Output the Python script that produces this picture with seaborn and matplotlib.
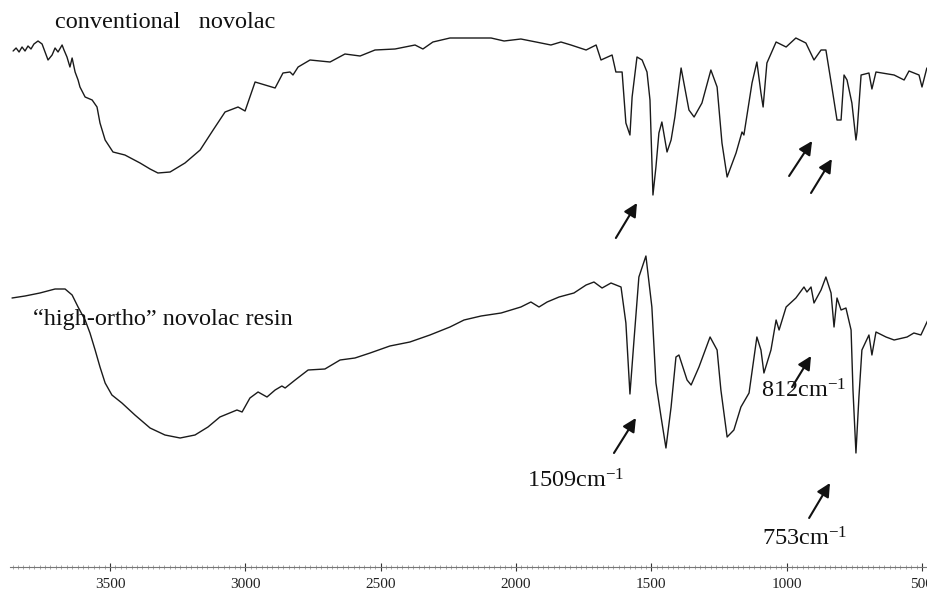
import matplotlib
matplotlib.use("Agg")
import matplotlib.pyplot as plt
import seaborn as sns
import numpy as np
import pandas as pd
from matplotlib.ticker import MultipleLocator, FixedLocator

# ---------------- data (wavenumber in cm-1, transmittance in arbitrary offset units) -------------
conv_wn = [3858, 3847, 3836, 3825, 3814, 3803, 3792, 3781, 3766, 3751,
           3740, 3729, 3714, 3703, 3692, 3677, 3670, 3659, 3648, 3640,
           3629, 3618, 3611, 3592, 3566, 3548, 3537, 3518, 3489, 3445,
           3389, 3352, 3323, 3278, 3223, 3167, 3119, 3075, 3027, 3001,
           2964, 2927, 2890, 2861, 2835, 2824, 2805, 2761, 2724, 2687,
           2632, 2576, 2521, 2447, 2373, 2344, 2307, 2244,
           2192, 2092, 2044, 1982, 1926, 1871, 1834, 1797, 1741, 1704,
           1686, 1645, 1631, 1608, 1594, 1579, 1571, 1553, 1534, 1516,
           1505, 1494, 1483, 1472, 1461, 1442, 1427, 1413, 1390, 1361,
           1342, 1313, 1280, 1257, 1239, 1220, 1187, 1165, 1158, 1128,
           1110, 1095, 1087, 1073, 1039, 1002, 966, 929, 899, 873,
           855, 833, 814, 799, 788, 777, 759, 744, 740, 725,
           696, 685, 670, 603, 566, 548, 511, 500, 482]
conv_t = [516, 519, 515, 520, 516, 521, 518, 523, 526, 523,
          515, 507, 512, 519, 515, 522, 517, 510, 500, 509,
          495, 487, 480, 470, 467, 460, 444, 427, 415, 412,
          404, 398, 394, 395, 404, 417, 437, 455, 460, 456,
          485, 482, 479, 494, 495, 492, 500, 507, 506, 505,
          513, 511, 517, 518, 522, 518, 525, 529,
          529, 529, 526, 528, 525, 522, 525, 522, 517, 522,
          507, 512, 495, 495, 444, 432, 470, 510, 507, 495,
          467, 372, 400, 434, 445, 415, 427, 450, 499, 457,
          450, 464, 497, 480, 424, 390, 414, 435, 432, 484,
          505, 474, 460, 504, 525, 520, 529, 524, 507, 517,
          517, 480, 447, 447, 492, 487, 464, 427, 435, 492,
          494, 478, 495, 492, 487, 496, 492, 480, 499]

ortho_wn = [3862, 3814, 3759, 3703, 3666, 3640, 3618, 3592, 3574, 3555,
            3537, 3518, 3493, 3456, 3408, 3352, 3297, 3241, 3186, 3138,
            3094, 3049, 3031, 3012, 2983, 2953, 2920, 2890, 2865, 2853,
            2816, 2768, 2706, 2650, 2595, 2539, 2466, 2392, 2318, 2244,
            2192, 2129, 2055, 1982, 1945, 1915, 1885, 1841, 1786, 1741,
            1712, 1682, 1649, 1612, 1594, 1579, 1564, 1546, 1520, 1498,
            1483, 1464, 1446, 1427, 1409, 1398, 1368, 1353, 1324, 1283,
            1257, 1243, 1220, 1195, 1169, 1139, 1110, 1095, 1084, 1058,
            1039, 1028, 1002, 966, 936, 925, 910, 899, 873, 855,
            836, 825, 814, 799, 781, 762, 755, 744, 733, 722,
            696, 685, 670, 633, 603, 555, 530, 504, 478]
ortho_t = [269, 271, 274, 278, 278, 272, 260, 247, 234, 217,
           200, 184, 172, 164, 152, 139, 132, 129, 132, 140,
           150, 155, 157, 155, 169, 175, 170, 177, 181, 179,
           187, 197, 198, 207, 209, 214, 221, 225, 232, 240,
           247, 251, 254, 260, 265, 260, 265, 270, 274, 282,
           285, 279, 284, 280, 244, 173, 227, 290, 311, 260,
           184, 150, 119, 160, 210, 212, 187, 182, 200, 230,
           217, 177, 130, 137, 160, 174, 230, 217, 194, 217,
           247, 237, 260, 269, 280, 275, 280, 264, 277, 290,
           274, 240, 269, 257, 259, 237, 177, 114, 170, 217,
           232, 212, 235, 230, 227, 230, 234, 232, 247]

x_ticks = [3500, 3000, 2500, 2000, 1500, 1000, 500]
x_tick_labels = ["3500", "3000", "2500", "2000", "1500", "1000", "500"]

series_labels = ["conventional   novolac", "\u201chigh-ortho\u201d novolac resin"]
# label anchors (wavenumber, transmittance)
label_wn = [3703, 3784]
label_t = [539, 242]

# band annotations: arrow tail (wn, T) -> head (wn, T)
arrow_tail_wn = [1631, 991, 910, 1638, 980, 917]
arrow_tail_t = [329, 391, 374, 114, 180, 49]
arrow_head_wn = [1553, 906, 833, 1557, 910, 840]
arrow_head_t = [364, 426, 408, 149, 211, 84]

band_texts = ["1509cm$^{-1}$", "812cm$^{-1}$", "753cm$^{-1}$"]
band_text_wn = [1959, 1095, 1091]
band_text_t = [79, 169, 22]

# ---------------- styling -------------
sns.set_theme(style="white")
plt.rcParams["font.family"] = ["Liberation Serif", "DejaVu Serif"]
plt.rcParams["mathtext.fontset"] = "custom"
plt.rcParams["mathtext.rm"] = "Liberation Serif"
plt.rcParams["mathtext.it"] = "Liberation Serif:italic"
plt.rcParams["mathtext.bf"] = "Liberation Serif:bold"
plt.rcParams["mathtext.default"] = "regular"

df_conv = pd.DataFrame({"wn": conv_wn, "T": conv_t})
df_ortho = pd.DataFrame({"wn": ortho_wn, "T": ortho_t})

fig = plt.figure(figsize=(9.28, 5.94), dpi=100)
ax = fig.add_axes([10 / 928, 27 / 594, 918 / 928, 567 / 594])
ax.set_facecolor("white")

sns.lineplot(data=df_conv, x="wn", y="T", ax=ax, sort=False, estimator=None,
             color="#1a1a1a", lw=1.0)
sns.lineplot(data=df_ortho, x="wn", y="T", ax=ax, sort=False, estimator=None,
             color="#1a1a1a", lw=1.0)

ax.set_xlim(3869.5, 477.8)
ax.set_ylim(0, 567)
ax.set_xlabel("")
ax.set_ylabel("")
ax.set_yticks([])

for s in ["left", "right", "top"]:
    ax.spines[s].set_visible(False)
ax.spines["bottom"].set_color("#777777")
ax.spines["bottom"].set_linewidth(0.8)

ax.xaxis.set_major_locator(FixedLocator(x_ticks))
ax.set_xticklabels(x_tick_labels)
ax.xaxis.set_minor_locator(MultipleLocator(20))
ax.tick_params(axis="x", which="major", direction="inout", length=6, width=0.8,
               color="#333333", pad=5, labelsize=11, labelcolor="#222222", bottom=True)
ax.tick_params(axis="x", which="minor", direction="inout", length=2.5, width=0.5,
               color="#888888", bottom=True)

for txt, xw, yt in zip(series_labels, label_wn, label_t):
    ax.text(xw, yt, txt, fontsize=17.5, ha="left", va="baseline", color="#111111")

for tx, ty, hx, hy in zip(arrow_tail_wn, arrow_tail_t, arrow_head_wn, arrow_head_t):
    ax.annotate("", xy=(hx, hy), xytext=(tx, ty),
                arrowprops=dict(arrowstyle="-|>", color="#111111", lw=1.5,
                                mutation_scale=20, shrinkA=0, shrinkB=0))

for txt, xw, yt in zip(band_texts, band_text_wn, band_text_t):
    ax.text(xw, yt, txt, fontsize=17.5, ha="left", va="baseline", color="#111111")

fig.savefig("out.png", dpi=100)
